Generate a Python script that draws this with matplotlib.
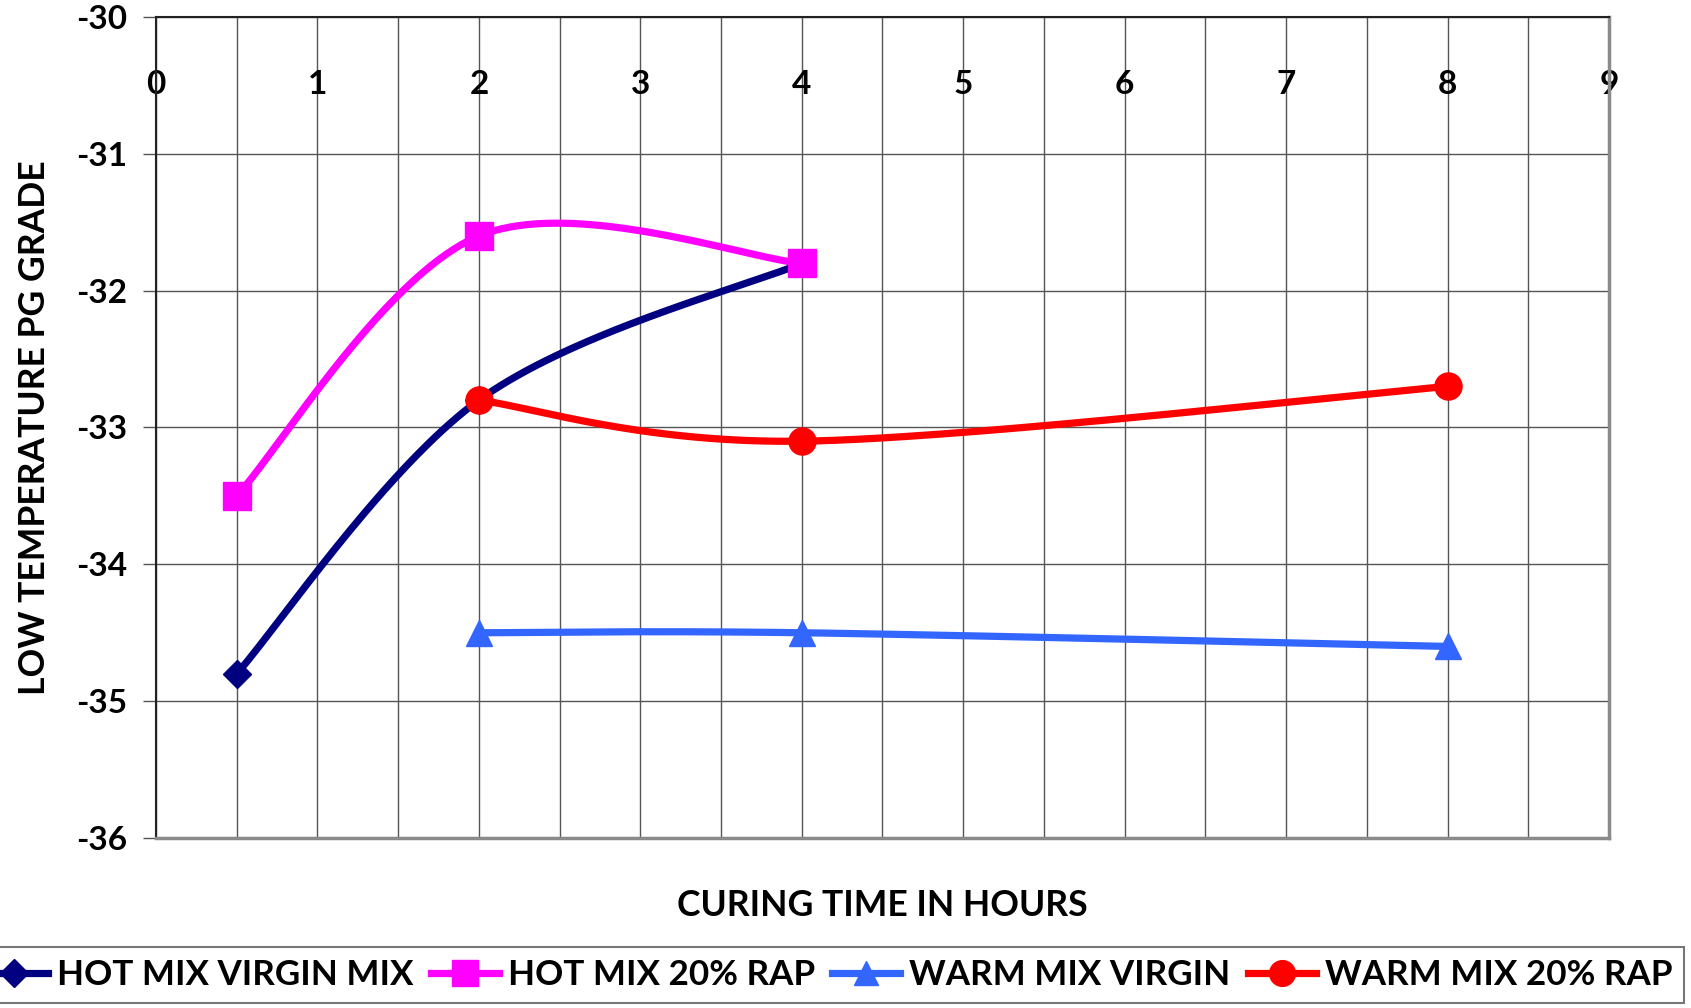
import numpy as np
import matplotlib
matplotlib.use("Agg")
import matplotlib.pyplot as plt
from matplotlib.lines import Line2D

plt.rcParams['font.family'] = ['Lato', 'DejaVu Sans']
plt.rcParams['font.weight'] = 'bold'
plt.rcParams['axes.unicode_minus'] = False

# ---- data ----
hot_virgin_x = [0.5, 2, 4]
hot_virgin_y = [-34.8, -32.8, -31.8]

hot_rap_x = [0.5, 2, 4]
hot_rap_y = [-33.5, -31.6, -31.8]

warm_virgin_x = [2, 4, 8]
warm_virgin_y = [-34.5, -34.5, -34.6]

warm_rap_x = [2, 4, 8]
warm_rap_y = [-32.8, -33.1, -32.7]

series_labels = ["HOT MIX VIRGIN MIX", "HOT MIX 20% RAP",
                 "WARM MIX VIRGIN", "WARM MIX 20% RAP"]
x_ticks = list(range(0, 10))
y_ticks = list(range(-36, -29))

W, H = 1691, 1008
fig = plt.figure(figsize=(W / 100, H / 100), dpi=100)
ax = fig.add_axes([156 / W, 1 - 838 / H, (1609 - 156) / W, (838 - 17) / H])

ax.set_xlim(0, 9)
ax.set_ylim(-36, -30)
ax.set_xticks(x_ticks)
ax.set_xticks(np.arange(0.5, 9, 1), minor=True)
ax.set_yticks(y_ticks)
ax.grid(which='both', color='#555555', lw=1.0)
ax.set_axisbelow(True)

ax.tick_params(axis='x', which='both', length=0, top=False, bottom=False,
               labeltop=True, labelbottom=False, pad=-59, labelsize=24)
ax.tick_params(axis='y', which='major', length=9.4, width=1, color='#555555',
               direction='out', pad=11.5, labelsize=24)

for side in ('left', 'top'):
    ax.spines[side].set_color('#222222')
    ax.spines[side].set_linewidth(1.5)
for side in ('right', 'bottom'):
    ax.spines[side].set_color('#8a8a8a')
    ax.spines[side].set_linewidth(2.5)

ax.set_xlabel("CURING TIME IN HOURS", fontsize=25.6, fontweight='bold')
ax.xaxis.set_label_coords(0.5, -0.0828)
ax.xaxis.label.set_va('center')
ax.set_ylabel("LOW TEMPERATURE PG GRADE", fontsize=25.6, fontweight='bold')
ax.yaxis.set_label_coords(-0.0833, 0.5)
ax.yaxis.label.set_va('center')


def smooth_curve(xs, ys, n=80):
    """Bezier smoothing through the points, computed in screen space."""
    pts = ax.transData.transform(np.column_stack([xs, ys]))
    P = np.vstack([pts[0], pts, pts[-1]])
    out = [pts[:1]]
    t = np.linspace(0, 1, n)[1:, None]
    for i in range(1, len(P) - 2):
        p0, p1, p2, p3 = P[i - 1], P[i], P[i + 1], P[i + 2]
        c1 = p1 + (p2 - p0) / 6.0
        c2 = p2 - (p3 - p1) / 6.0
        seg = ((1 - t) ** 3) * p1 + 3 * ((1 - t) ** 2) * t * c1 \
            + 3 * (1 - t) * t ** 2 * c2 + t ** 3 * p2
        out.append(seg)
    pix = np.vstack(out)
    d = ax.transData.inverted().transform(pix)
    return d[:, 0], d[:, 1]


styles = [
    (hot_virgin_x, hot_virgin_y, '#000080', 'D', 14.5),
    (hot_rap_x, hot_rap_y, '#FF00FF', 's', 19.5),
    (warm_virgin_x, warm_virgin_y, '#3366FF', '^', 18.5),
    (warm_rap_x, warm_rap_y, '#FF0000', 'o', 19.5),
]
LW = 5.2
handles = []
for (xs, ys, col, mk, ms), lab in zip(styles, series_labels):
    sx, sy = smooth_curve(xs, ys)
    ax.plot(sx, sy, color=col, lw=LW, solid_capstyle='butt')
    ax.plot(xs, ys, ls='none', marker=mk, ms=ms, color=col, mec=col)
    handles.append(Line2D([], [], color=col, lw=LW, marker=mk, ms=ms * 0.95,
                          mec=col, label=lab))

leg = fig.legend(handles=handles, labels=series_labels, loc='center',
                 bbox_to_anchor=(826 / W, 1 - 975 / H), ncol=4, fontsize=25.2,
                 handlelength=1.95, handletextpad=0.25, columnspacing=0.5,
                 borderpad=0.33, borderaxespad=0, frameon=True, fancybox=False)
leg.get_frame().set_edgecolor('#555555')
leg.get_frame().set_linewidth(1.5)
for txt in leg.get_texts():
    txt.set_fontweight('bold')

fig.savefig("out.png", dpi=100, facecolor='white')
